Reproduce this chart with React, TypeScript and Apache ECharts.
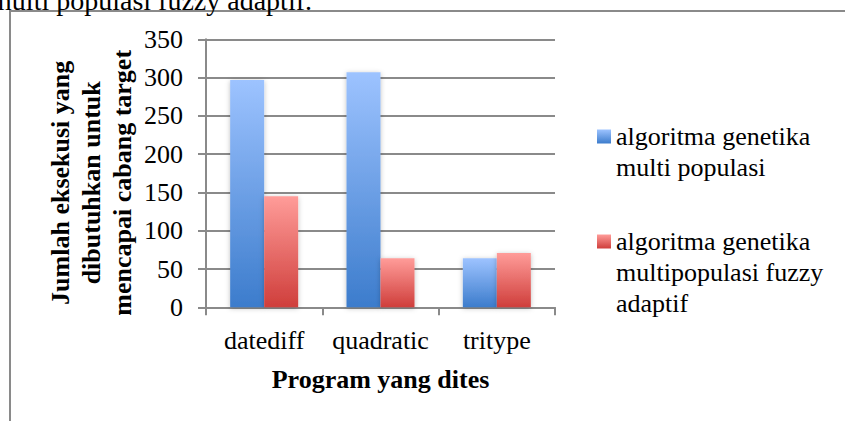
import React, { useEffect, useRef } from "react";
import * as echarts from "echarts";

const categories = ["datediff", "quadratic", "tritype"];
const seriesNames = [
  "algoritma genetika multi populasi",
  "algoritma genetika multipopulasi fuzzy adaptif",
];
const legendLabels = [
  "\nalgoritma genetika\nmulti populasi",
  "\n\nalgoritma genetika\nmultipopulasi fuzzy\nadaptif",
];
const multiPopulasi = [297, 307, 64];
const fuzzyAdaptif = [145, 64, 71];
const yMin = 0;
const yMax = 350;
const yInterval = 50;
const yTitle = "Jumlah eksekusi yang\ndibutuhkan untuk\nmencapai cabang target";
const xTitle = "Program yang dites";
const captionText = "multi populasi fuzzy adaptif.";

const SERIF = "Liberation Serif";
const GREY = "#8a8a8a";

const blueGrad = new echarts.graphic.LinearGradient(0, 0, 0, 1, [
  { offset: 0, color: "#9dc3ff" },
  { offset: 1, color: "#3c7ccc" },
]);
const redGrad = new echarts.graphic.LinearGradient(0, 0, 0, 1, [
  { offset: 0, color: "#ff9c99" },
  { offset: 1, color: "#cf3e3b" },
]);

export default function App() {
  const ref = useRef<HTMLDivElement>(null);
  useEffect(() => {
    if (!ref.current) return;
    const chart = echarts.init(ref.current, null, { renderer: "svg" });
    const legendText = {
      fontSize: 26,
      lineHeight: 31,
      fontFamily: SERIF,
      color: "#000",
    };
    chart.setOption({
      animation: false,
      backgroundColor: "#fff",
      textStyle: { fontFamily: SERIF },
      grid: { left: 206, right: 290, top: 39.3, bottom: 113.7, containLabel: false },
      graphic: [
        {
          type: "rect",
          shape: { x: 10, y: 11, width: 1000, height: 1000 },
          style: { fill: "none", stroke: GREY, lineWidth: 2 },
          silent: true,
        },
        {
          type: "text",
          x: 312,
          y: 14,
          style: {
            text: captionText,
            fontSize: 28,
            fontFamily: SERIF,
            fill: "#000",
            textAlign: "right",
            textVerticalAlign: "bottom",
          },
          silent: true,
        },
      ],
      legend: [
        {
          data: [seriesNames[0]],
          left: 597,
          top: 90,
          padding: 0,
          itemWidth: 14,
          itemHeight: 14,
          icon: "rect",
          selectedMode: false,
          orient: "vertical",
          formatter: () => legendLabels[0],
          textStyle: legendText,
        },
        {
          data: [seriesNames[1]],
          left: 597,
          top: 164,
          padding: 0,
          itemWidth: 14,
          itemHeight: 14,
          icon: "rect",
          selectedMode: false,
          orient: "vertical",
          formatter: () => legendLabels[1],
          textStyle: legendText,
        },
      ],
      xAxis: {
        type: "category",
        data: categories,
        axisLine: { lineStyle: { color: GREY, width: 2 } },
        axisTick: { show: true, length: 8, lineStyle: { color: GREY, width: 2 } },
        axisLabel: { interval: 0, fontSize: 26, fontFamily: SERIF, color: "#000", margin: 20 },
        name: xTitle,
        nameLocation: "middle",
        nameGap: 59,
        nameTextStyle: { fontSize: 26, fontWeight: "bold", fontFamily: SERIF, color: "#000" },
      },
      yAxis: {
        type: "value",
        min: yMin,
        max: yMax,
        interval: yInterval,
        axisLine: { show: true, lineStyle: { color: GREY, width: 2 } },
        axisTick: { show: true, inside: false, length: 8, lineStyle: { color: GREY, width: 2 } },
        axisLabel: { fontSize: 26, fontFamily: SERIF, color: "#000", margin: 23 },
        splitLine: { show: true, lineStyle: { color: GREY, width: 2 } },
        name: yTitle,
        nameLocation: "middle",
        nameGap: 68,
        nameTextStyle: {
          fontSize: 26,
          lineHeight: 31,
          fontWeight: "bold",
          fontFamily: SERIF,
          color: "#000",
          padding: [0, 19, 0, 0],
        },
      },
      series: [
        {
          name: seriesNames[0],
          type: "bar",
          data: multiPopulasi,
          barWidth: 34,
          barGap: "0%",
          itemStyle: {
            color: blueGrad,
            shadowBlur: 5,
            shadowColor: "rgba(0,0,0,0.25)",
            shadowOffsetY: 1,
          },
        },
        {
          name: seriesNames[1],
          type: "bar",
          data: fuzzyAdaptif,
          barWidth: 34,
          barGap: "0%",
          itemStyle: {
            color: redGrad,
            shadowBlur: 5,
            shadowColor: "rgba(0,0,0,0.25)",
            shadowOffsetY: 1,
          },
        },
      ],
    });
    return () => chart.dispose();
  }, []);
  return (
    <div
      ref={ref}
      style={{ position: "absolute", left: 0, top: 0, width: 845, height: 421 }}
    />
  );
}
